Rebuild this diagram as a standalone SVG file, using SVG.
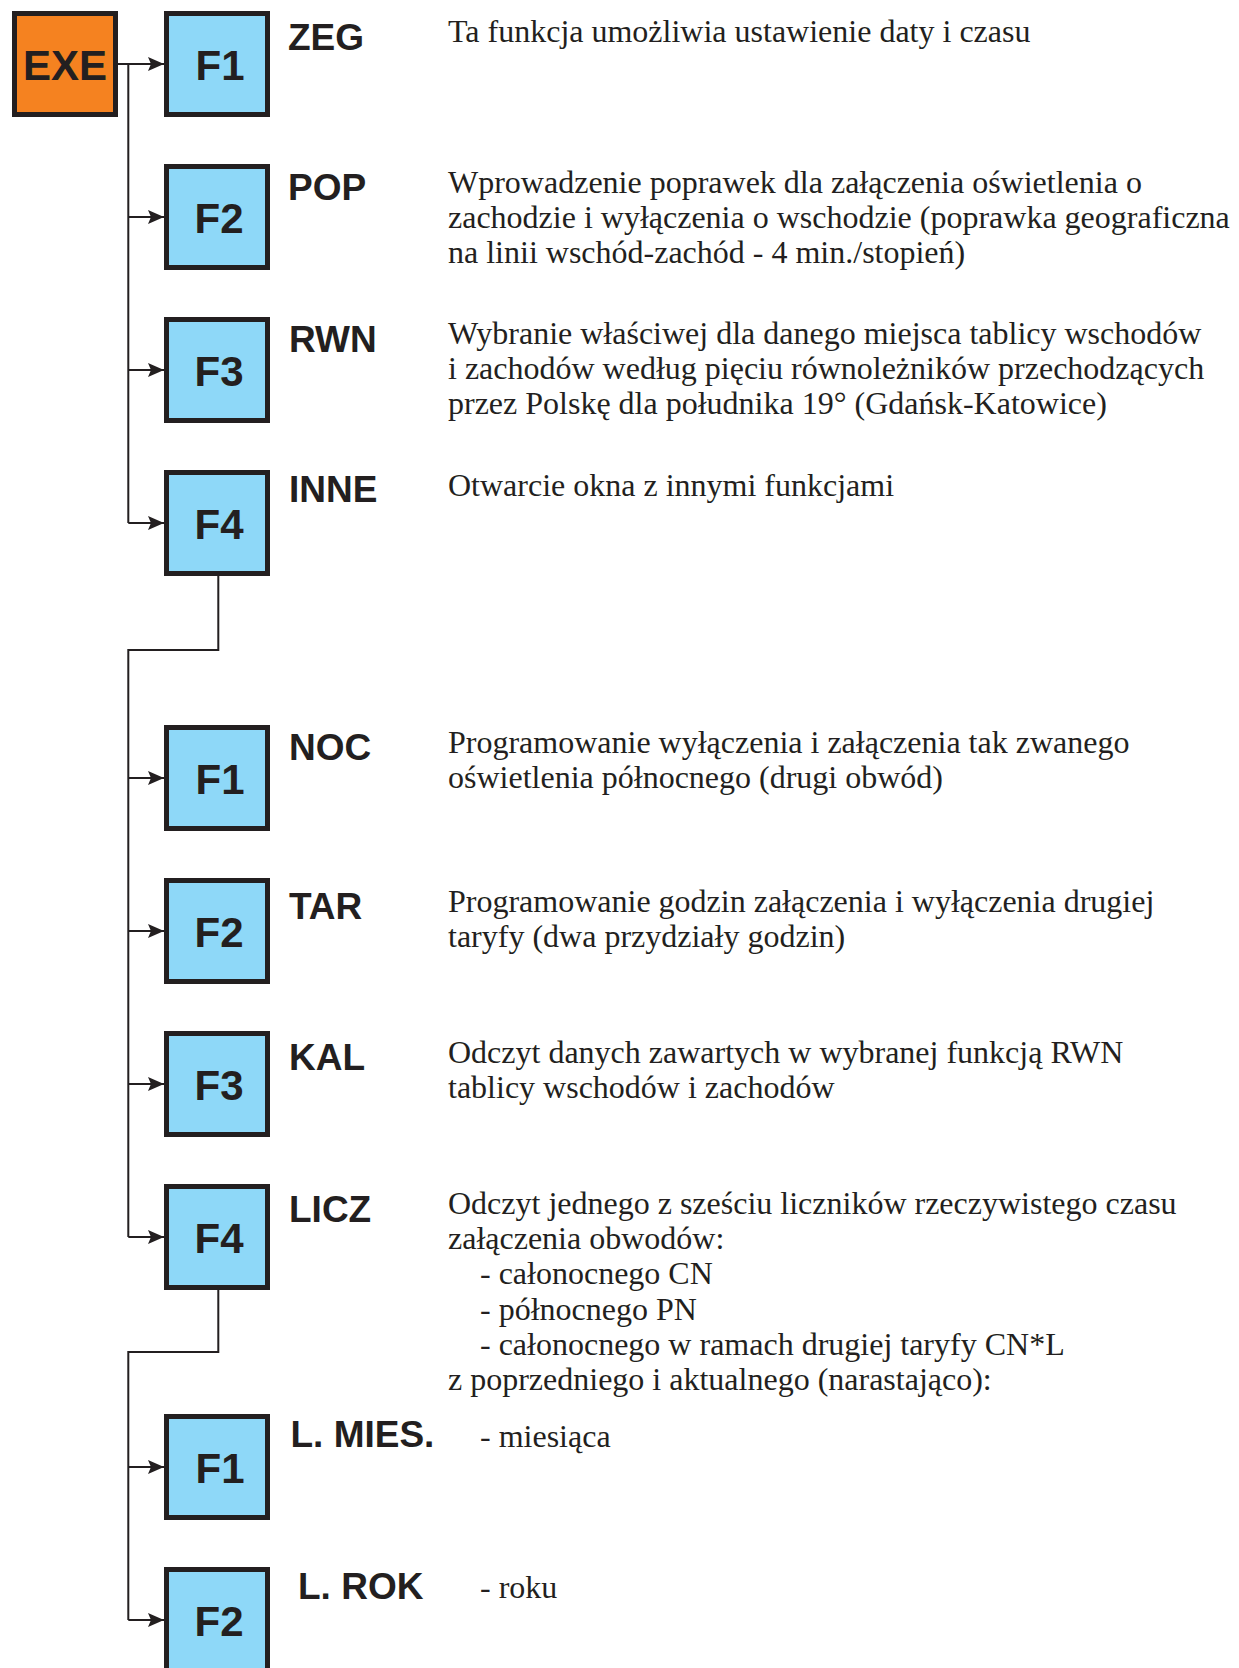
<svg xmlns="http://www.w3.org/2000/svg" width="1239" height="1668" viewBox="0 0 1239 1668">
<style>
.box{fill:#8ED8F8;stroke:#231F20;stroke-width:5}
.exe{fill:#F58220;stroke:#231F20;stroke-width:5}
.key{font-family:"Liberation Sans",Arial,sans-serif;font-weight:bold;font-size:42px;fill:#231F20;text-anchor:middle}
.lbl{font-family:"Liberation Sans",Arial,sans-serif;font-weight:bold;font-size:37px;fill:#231F20}
.desc{font-family:"Liberation Serif","Times New Roman",serif;font-size:32px;fill:#231F20}
.wire{fill:none;stroke:#231F20;stroke-width:2}
.arr{fill:none;stroke:#231F20;stroke-width:2;marker-end:url(#ah)}
</style>
<defs>
<marker id="ah" viewBox="0 0 16 14" refX="16" refY="7" markerWidth="16" markerHeight="14" markerUnits="userSpaceOnUse" orient="auto">
<path d="M0,0 L16,7 L0,14 L3,7 Z" fill="#231F20"/>
</marker>
</defs>
<rect width="1239" height="1668" fill="#FFFFFF"/>
<g id="connectors">
<path class="wire" d="M118,64 H128.3 V523"/>
<path class="arr" d="M118,64 H164"/>
<path class="arr" d="M128.3,217 H164"/>
<path class="arr" d="M128.3,370 H164"/>
<path class="arr" d="M128.3,523 H164"/>
<path class="wire" d="M218.3,576 V650 H128.3 V1237"/>
<path class="arr" d="M128.3,778 H164"/>
<path class="arr" d="M128.3,931 H164"/>
<path class="arr" d="M128.3,1084 H164"/>
<path class="arr" d="M128.3,1237 H164"/>
<path class="wire" d="M218.3,1290 V1352 H128.3 V1620"/>
<path class="arr" d="M128.3,1467 H164"/>
<path class="arr" d="M128.3,1620 H164"/>
</g>
<g id="exe">
<rect class="exe" x="14.5" y="13.5" width="101" height="101"/>
<text class="key" x="65" y="80">EXE</text>
</g>
<g id="zeg">
<rect class="box" x="166.5" y="13.5" width="101" height="101"/>
<text class="key" x="220" y="80">F1</text>
<text class="lbl" x="288" y="50">ZEG</text>
<text class="desc" x="448" y="41.7">Ta funkcja umożliwia ustawienie daty i czasu</text>
</g>
<g id="pop">
<rect class="box" x="166.5" y="166.5" width="101" height="101"/>
<text class="key" x="219" y="233">F2</text>
<text class="lbl" x="288" y="200">POP</text>
<text class="desc" x="448" y="193">Wprowadzenie poprawek dla załączenia oświetlenia o</text>
<text class="desc" x="448" y="228">zachodzie i wyłączenia o wschodzie (poprawka geograficzna</text>
<text class="desc" x="448" y="263">na linii wschód-zachód - 4 min./stopień)</text>
</g>
<g id="rwn">
<rect class="box" x="166.5" y="319.5" width="101" height="101"/>
<text class="key" x="219" y="386">F3</text>
<text class="lbl" x="289" y="351.7">RWN</text>
<text class="desc" x="448" y="344">Wybranie właściwej dla danego miejsca tablicy wschodów</text>
<text class="desc" x="448" y="379">i zachodów według pięciu równoleżników przechodzących</text>
<text class="desc" x="448" y="414">przez Polskę dla południka 19° (Gdańsk-Katowice)</text>
</g>
<g id="inne">
<rect class="box" x="166.5" y="472.5" width="101" height="101"/>
<text class="key" x="219" y="539">F4</text>
<text class="lbl" x="289" y="502.3">INNE</text>
<text class="desc" x="448" y="495.5">Otwarcie okna z innymi funkcjami</text>
</g>
<g id="noc">
<rect class="box" x="166.5" y="727.5" width="101" height="101"/>
<text class="key" x="220" y="794">F1</text>
<text class="lbl" x="289" y="760">NOC</text>
<text class="desc" x="448" y="753">Programowanie wyłączenia i załączenia tak zwanego</text>
<text class="desc" x="448" y="788">oświetlenia północnego (drugi obwód)</text>
</g>
<g id="tar">
<rect class="box" x="166.5" y="880.5" width="101" height="101"/>
<text class="key" x="219" y="947">F2</text>
<text class="lbl" x="289" y="919">TAR</text>
<text class="desc" x="448" y="912">Programowanie godzin załączenia i wyłączenia drugiej</text>
<text class="desc" x="448" y="947">taryfy (dwa przydziały godzin)</text>
</g>
<g id="kal">
<rect class="box" x="166.5" y="1033.5" width="101" height="101"/>
<text class="key" x="219" y="1100">F3</text>
<text class="lbl" x="289" y="1070">KAL</text>
<text class="desc" x="448" y="1063">Odczyt danych zawartych w wybranej funkcją RWN</text>
<text class="desc" x="448" y="1098">tablicy wschodów i zachodów</text>
</g>
<g id="licz">
<rect class="box" x="166.5" y="1186.5" width="101" height="101"/>
<text class="key" x="219" y="1253">F4</text>
<text class="lbl" x="289" y="1221.7">LICZ</text>
<text class="desc" x="448" y="1214">Odczyt jednego z sześciu liczników rzeczywistego czasu</text>
<text class="desc" x="448" y="1249">załączenia obwodów:</text>
<text class="desc" x="480" y="1284">- całonocnego CN</text>
<text class="desc" x="480" y="1320">- północnego PN</text>
<text class="desc" x="480" y="1355">- całonocnego w ramach drugiej taryfy CN*L</text>
<text class="desc" x="448" y="1390">z poprzedniego i aktualnego (narastająco):</text>
</g>
<g id="lmies">
<rect class="box" x="166.5" y="1416.5" width="101" height="101"/>
<text class="key" x="220" y="1483">F1</text>
<text class="lbl" x="290.5" y="1447">L. MIES.</text>
<text class="desc" x="480" y="1447">- miesiąca</text>
</g>
<g id="lrok">
<rect class="box" x="166.5" y="1569.5" width="101" height="101"/>
<text class="key" x="219" y="1636">F2</text>
<text class="lbl" x="298" y="1599">L. ROK</text>
<text class="desc" x="480" y="1598">- roku</text>
</g>
</svg>
